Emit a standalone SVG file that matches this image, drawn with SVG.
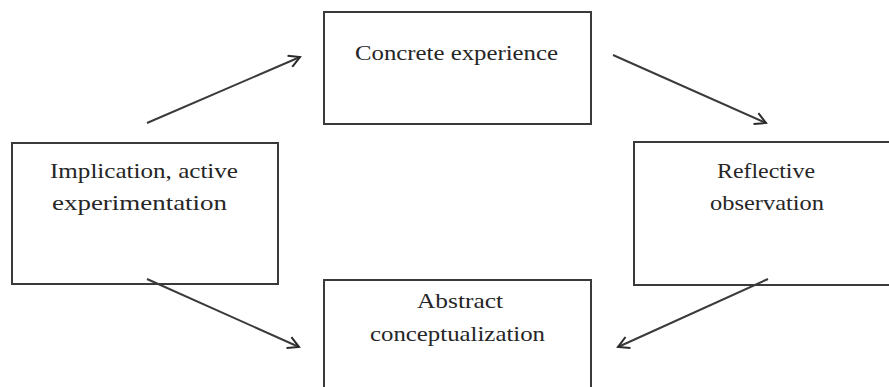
<svg xmlns="http://www.w3.org/2000/svg" width="889" height="387" viewBox="0 0 889 387">
<style>
.box{fill:#fff;stroke:#3a3a3a;stroke-width:2}
.lbl{font-family:"Liberation Serif","Times New Roman",serif;font-size:22px;fill:#262626;text-anchor:middle}
.conn{stroke:#3a3a3a;stroke-width:2;fill:none;marker-end:url(#ah)}
</style>
<defs>
<marker id="ah" markerWidth="14" markerHeight="14" refX="12" refY="7" orient="auto" markerUnits="userSpaceOnUse">
<path d="M1,1 L12,7 L1,13" fill="none" stroke="#2a2a2a" stroke-width="2"/>
</marker>
</defs>
<rect width="889" height="387" fill="#fff"/>
<g id="concrete">
<rect class="box" x="324" y="12" width="267" height="112"/>
<text class="lbl" x="456.5" y="60" textLength="203" lengthAdjust="spacingAndGlyphs">Concrete experience</text>
</g>
<g id="implication">
<rect class="box" x="12" y="143" width="266" height="141"/>
<text class="lbl" x="144" y="178" textLength="188" lengthAdjust="spacingAndGlyphs">Implication, active</text>
<text class="lbl" x="139.5" y="210" textLength="175" lengthAdjust="spacingAndGlyphs">experimentation</text>
</g>
<g id="reflective">
<rect class="box" x="634" y="142" width="270" height="143"/>
<text class="lbl" x="766" y="178" textLength="98" lengthAdjust="spacingAndGlyphs">Reflective</text>
<text class="lbl" x="767" y="210" textLength="114" lengthAdjust="spacingAndGlyphs">observation</text>
</g>
<g id="abstract">
<rect class="box" x="324" y="280" width="267" height="120"/>
<text class="lbl" x="460" y="308" textLength="86" lengthAdjust="spacingAndGlyphs">Abstract</text>
<text class="lbl" x="457.5" y="341" textLength="175" lengthAdjust="spacingAndGlyphs">conceptualization</text>
</g>
<g id="connectors">
<line class="conn" x1="147" y1="123" x2="300" y2="57"/>
<line class="conn" x1="613" y1="55" x2="766" y2="123"/>
<line class="conn" x1="147" y1="279" x2="299" y2="347"/>
<line class="conn" x1="768" y1="279" x2="618" y2="347"/>
</g>
</svg>
